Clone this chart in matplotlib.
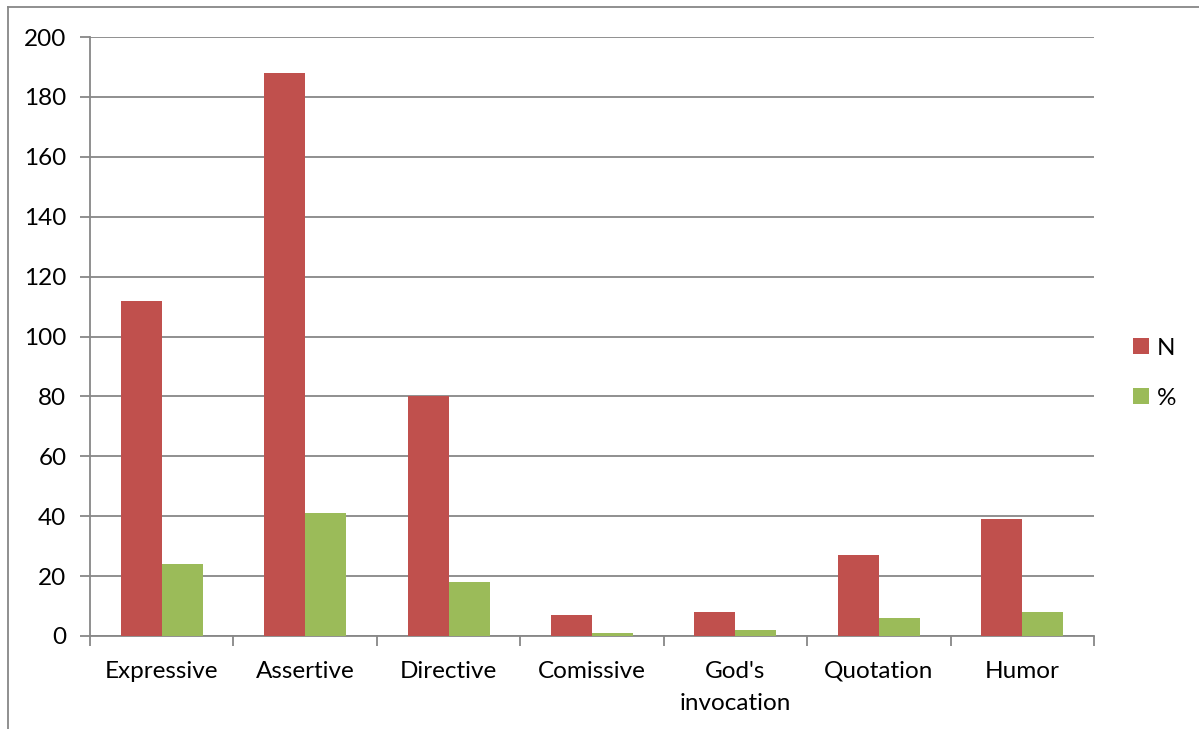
import numpy as np
import matplotlib
matplotlib.use("Agg")
from matplotlib import pyplot as plt
from matplotlib.lines import Line2D

categories = ["Expressive", "Assertive", "Directive", "Comissive",
              "God's\ninvocation", "Quotation", "Humor"]
n_values = [112, 188, 80, 7, 8, 27, 39]
pct_values = [24, 41, 18, 1, 2, 6, 8]

plt.rcParams['font.family'] = ['Lato', 'DejaVu Sans']

red = '#C0504D'
green = '#9BBB59'
grid_col = '#878787'

fig = plt.figure(figsize=(11.99, 7.29), dpi=100)
ax = fig.add_axes([0.0751, 0.1276, 0.8373, 0.8216])

x = np.arange(len(categories))
w = 0.286
ax.bar(x - w/2, n_values, w, color=red, label='N', zorder=3)
ax.bar(x + w/2, pct_values, w, color=green, label='%', zorder=3)

ax.set_xlim(-0.5, len(categories) - 0.5)
ax.set_ylim(0, 200)
ax.set_yticks(np.arange(0, 201, 20))
ax.yaxis.grid(True, color=grid_col, lw=1.3, zorder=0)

ax.set_xticks(x)
ax.set_xticklabels(categories, fontsize=17.5, linespacing=1.65)
ax.set_xticks(np.arange(-0.5, len(categories)), minor=True)
ax.tick_params(axis='x', which='major', length=0, pad=18)
ax.tick_params(axis='x', which='minor', length=7, width=1.3, color=grid_col)
ax.tick_params(axis='y', length=7, width=1.3, color=grid_col, labelsize=17.5, pad=10)

for side in ['top', 'right']:
    ax.spines[side].set_visible(False)
for side in ['left', 'bottom']:
    ax.spines[side].set_color(grid_col)
    ax.spines[side].set_linewidth(1.3)

fig.legend(loc='center left', bbox_to_anchor=(0.927, 0.488), frameon=False,
           fontsize=17.5, handlelength=0.65, handleheight=0.65, handletextpad=0.3,
           labelspacing=1.2)

# outer chart frame
fig.add_artist(Line2D([0.0067, 0.0067], [0.0, 0.990], color=grid_col, lw=1.3))
fig.add_artist(Line2D([0.0067, 1.0], [0.990, 0.990], color=grid_col, lw=1.3))

fig.savefig('out.png', dpi=100)
plt.close()
